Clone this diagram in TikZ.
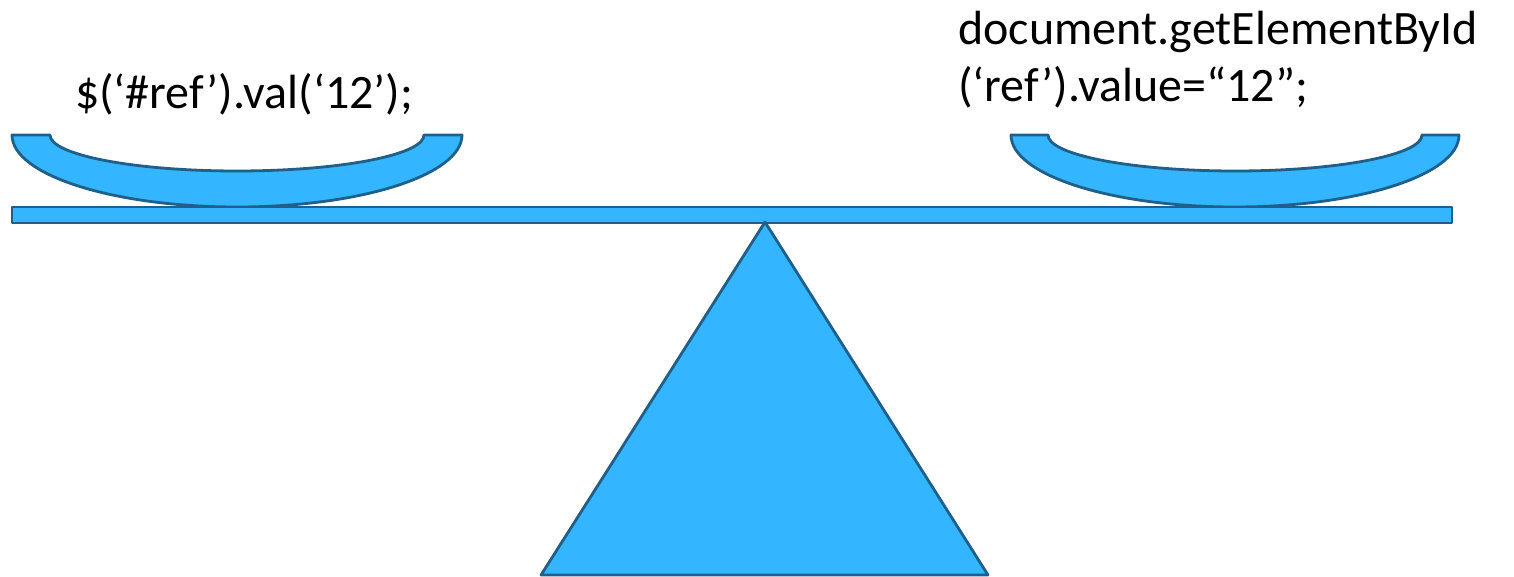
\documentclass[tikz,border=0pt]{standalone}
\usepackage{fontspec}
\setmainfont{Carlito}
\definecolor{panblue}{RGB}{51,181,255}
\definecolor{panedge}{RGB}{31,95,138}
\begin{document}
\begin{tikzpicture}[
        x=1pt, y=1pt,
        part/.style={fill=panblue, draw=panedge, line width=2.8pt, line join=round},
        code/.style={inner sep=0pt, font=\fontsize{48}{57}\selectfont, align=left},
    ]
    \useasboundingbox (0,0) rectangle (1514,576);
    \draw[part] (12,441) -- (50,441)
        arc[start angle=180, end angle=360, x radius=187pt, y radius=36pt]
        -- (462,441)
        arc[start angle=0, end angle=-180, x radius=225pt, y radius=72pt] -- cycle;
    \draw[part] (1011,441) -- (1048,441)
        arc[start angle=180, end angle=360, x radius=187pt, y radius=36pt]
        -- (1459,441)
        arc[start angle=0, end angle=-180, x radius=224pt, y radius=72pt] -- cycle;
    \draw[part] (12,353) rectangle (1452,369);
    \draw[part] (765,354) -- (988,1) -- (541,1) -- cycle;
    \node[code, anchor=base] (jquery) at (244,467) {\$(‘\#ref’).val(‘12’);};
    \node[code, anchor=base west] (plainjs) at (958,474)
        {document.getElementById\\(‘ref’).value=“12”;};
\end{tikzpicture}
\end{document}
